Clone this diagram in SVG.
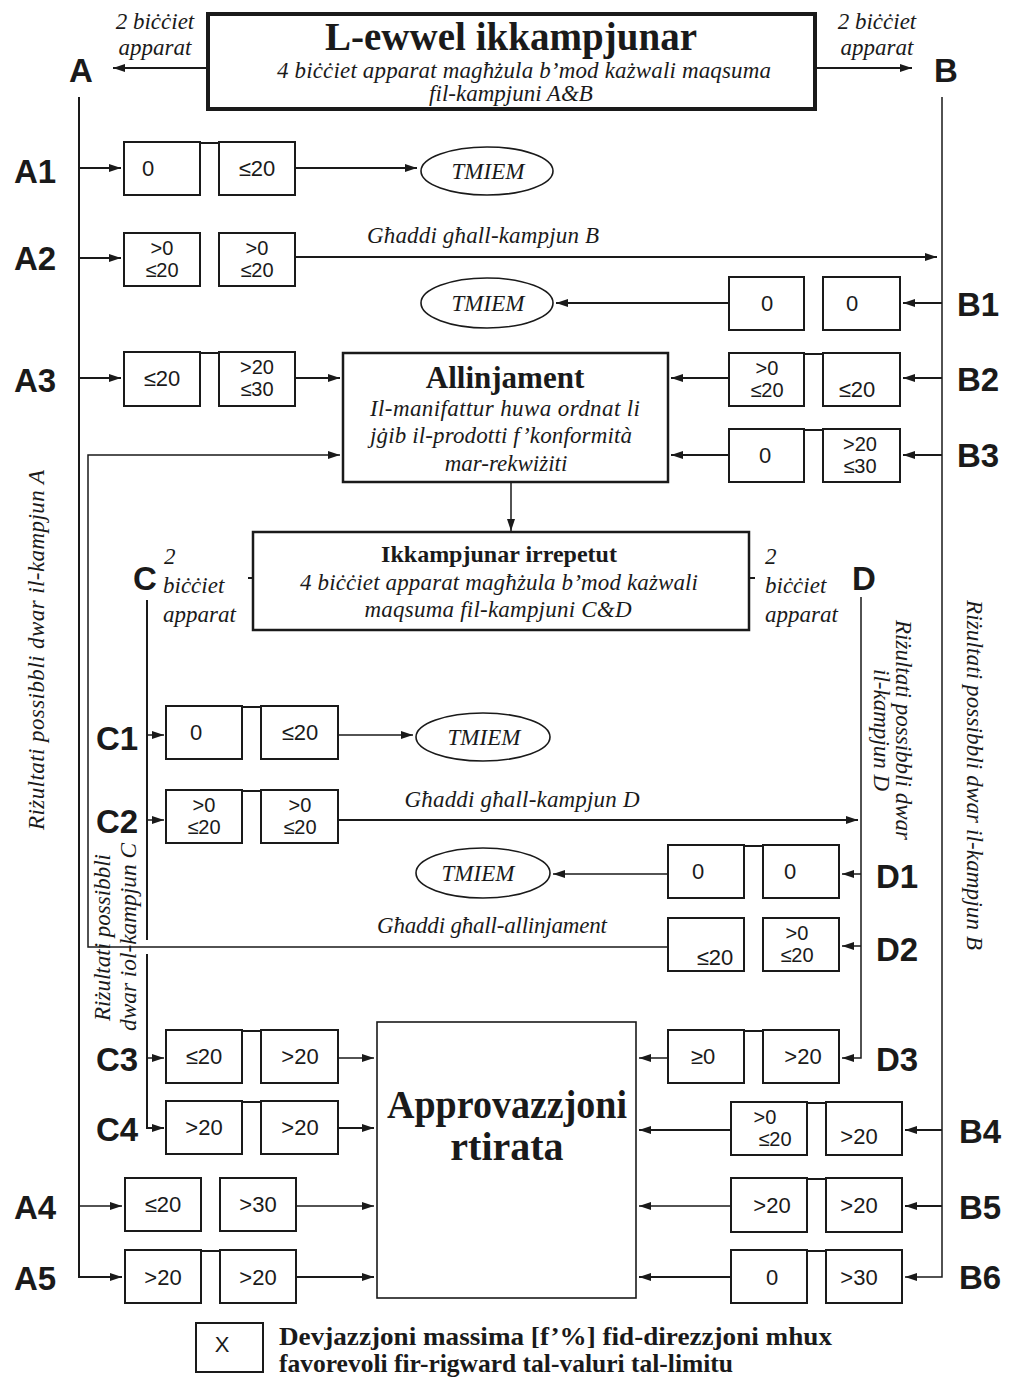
<svg xmlns="http://www.w3.org/2000/svg" width="1009" height="1381" viewBox="0 0 1009 1381">
<defs>
<marker id="ah" markerUnits="userSpaceOnUse" markerWidth="12" markerHeight="8" refX="12" refY="4" orient="auto">
<path d="M0,0 L12,4 L0,8 z" fill="#1a1a1a"/>
</marker>
<style>
.bx{fill:#fff;stroke:#1a1a1a;stroke-width:2}
.ln{fill:none;stroke:#1a1a1a;stroke-width:2}
.th{fill:none;stroke:#1a1a1a;stroke-width:1.5}
.ar{marker-end:url(#ah)}
.v{font-family:"Liberation Sans",Arial,sans-serif;font-size:22px;fill:#1a1a1a;text-anchor:middle}
.v2{font-family:"Liberation Sans",Arial,sans-serif;font-size:20px;fill:#1a1a1a;text-anchor:middle}
.lbl{font-family:"Liberation Sans",Arial,sans-serif;font-weight:bold;font-size:33px;fill:#1a1a1a;text-anchor:middle}
.it{font-family:"Liberation Serif","Times New Roman",serif;font-style:italic;font-size:23px;fill:#1a1a1a;text-anchor:middle}
.bd{font-family:"Liberation Serif","Times New Roman",serif;font-weight:bold;fill:#1a1a1a;text-anchor:middle}
.el{fill:#fff;stroke:#1a1a1a;stroke-width:1.6}
</style>
</defs>
<rect width="1009" height="1381" fill="#fff"/>

<g id="connectors">
<path class="ln ar" d="M207,68 H113"/>
<path class="ln ar" d="M815,68 H912"/>
<path class="ln ar" d="M79,97 V1277 H122"/>
<path class="ln ar" d="M79,168 H121"/>
<path class="ln ar" d="M79,258 H121"/>
<path class="ln ar" d="M79,378 H121"/>
<path class="th ar" d="M79,1206 H122"/>
<path class="ln ar" d="M295,168 H417"/>
<path class="ln ar" d="M295,257 H937"/>
<path class="ln ar" d="M295,378 H340"/>
<path class="th ar" d="M942,97 V1277 H905"/>
<path class="ln ar" d="M942,303 H903"/>
<path class="ln ar" d="M942,378 H903"/>
<path class="ln ar" d="M942,455 H903"/>
<path class="ln ar" d="M942,1130 H905"/>
<path class="ln ar" d="M942,1206 H905"/>
<path class="ln ar" d="M729,303 H556"/>
<path class="ln ar" d="M729,378 H671"/>
<path class="ln ar" d="M729,455 H671"/>
<path class="th ar" d="M511,482 V531"/>
<path class="ln" d="M147,600 V940"/>
<path class="ln ar" d="M147,954 V1128 H164"/>
<path class="th ar" d="M147,735 H164"/>
<path class="th ar" d="M147,820 H164"/>
<path class="th ar" d="M147,1058 H164"/>
<path class="th ar" d="M338,735 H413"/>
<path class="ln ar" d="M338,820 H858"/>
<path class="th ar" d="M338,1058 H374"/>
<path class="ln ar" d="M338,1128 H374"/>
<path class="th ar" d="M296,1206 H374"/>
<path class="ln ar" d="M296,1277 H374"/>
<path class="th ar" d="M861,597 V1058 H842"/>
<path class="th ar" d="M861,874 H842"/>
<path class="th ar" d="M861,946 H842"/>
<path class="th ar" d="M668,874 H553"/>
<path class="th ar" d="M668,947 H88 V455 H340"/>
<path class="th ar" d="M668,1058 H639"/>
<path class="ln ar" d="M731,1130 H639"/>
<path class="th ar" d="M731,1206 H639"/>
<path class="ln ar" d="M731,1277 H639"/>
<path class="ln" d="M248,578 H253 M749,578 H755"/>
</g>

<g id="header">
<rect x="208" y="14" width="607" height="95" fill="#fff" stroke="#1a1a1a" stroke-width="4"/>
<text class="bd" x="511" y="50" font-size="39" textLength="372" lengthAdjust="spacing">L-ewwel ikkampjunar</text>
<text class="it" x="524" y="78" textLength="494" lengthAdjust="spacing">4 biċċiet apparat magħżula b’mod każwali maqsuma</text>
<text class="it" x="511" y="101">fil-kampjuni A&amp;B</text>
<text class="it" x="155" y="29">2 biċċiet</text>
<text class="it" x="155" y="55">apparat</text>
<text class="it" x="877" y="29">2 biċċiet</text>
<text class="it" x="877" y="55">apparat</text>
</g>
<g id="label-A"><text class="lbl" x="81" y="82" font-size="42">A</text></g>
<g id="label-B"><text class="lbl" x="946" y="82" font-size="42">B</text></g>

<g id="side-texts">
<text class="it" transform="translate(44,650) rotate(-90)" textLength="360" lengthAdjust="spacing">Riżultati possibbli dwar il-kampjun A</text>
<text class="it" transform="translate(967,775) rotate(90)" textLength="350" lengthAdjust="spacing">Riżultati possibbli dwar il-kampjun B</text>
<text class="it" font-size="22" transform="translate(896,730) rotate(90)" textLength="220" lengthAdjust="spacingAndGlyphs">Riżultati possibbli dwar</text>
<text class="it" font-size="22" transform="translate(874,730) rotate(90)">il-kampjun D</text>
<text class="it" font-size="22" style="text-anchor:start" transform="translate(110,1021) rotate(-90)" textLength="167" lengthAdjust="spacingAndGlyphs">Riżultati possibbli</text>
<text class="it" font-size="22" style="text-anchor:start" transform="translate(136,1031) rotate(-90)" textLength="188" lengthAdjust="spacingAndGlyphs">dwar iol-kampjun C</text>
</g>

<g id="row-A1">
<text class="lbl" x="35" y="183">A1</text>
<rect class="bx" x="124" y="142" width="76" height="53"/><rect class="bx" x="219" y="142" width="76" height="53"/>
<path class="ln" d="M200,143 H219"/>
<text class="v" x="148" y="176">0</text><text class="v" x="257" y="176">≤20</text>
</g>
<g id="tmiem-1"><ellipse class="el" cx="487" cy="171" rx="66" ry="24"/><text class="it" x="488" y="179" font-size="22">TMIEM</text></g>

<g id="row-A2">
<text class="lbl" x="35" y="270">A2</text>
<rect class="bx" x="124" y="233" width="76" height="53"/><rect class="bx" x="219" y="233" width="76" height="53"/>
<text class="v2" x="162" y="255">&gt;0</text><text class="v2" x="162" y="277">≤20</text>
<text class="v2" x="257" y="255">&gt;0</text><text class="v2" x="257" y="277">≤20</text>
<text class="it" x="483" y="243" textLength="232" lengthAdjust="spacing">Għaddi għall-kampjun B</text>
</g>

<g id="row-B1">
<text class="lbl" x="978" y="316">B1</text>
<rect class="bx" x="729" y="277" width="75" height="53"/><rect class="bx" x="823" y="277" width="77" height="53"/>
<text class="v" x="767" y="311">0</text><text class="v" x="852" y="311">0</text>
</g>
<g id="tmiem-2"><ellipse class="el" cx="487" cy="303" rx="66" ry="25"/><text class="it" x="488" y="311" font-size="22">TMIEM</text></g>

<g id="row-A3">
<text class="lbl" x="35" y="392">A3</text>
<rect class="bx" x="124" y="352" width="76" height="54"/><rect class="bx" x="219" y="352" width="76" height="54"/>
<path class="ln" d="M200,353 H219"/>
<text class="v" x="162" y="386">≤20</text>
<text class="v2" x="257" y="374">&gt;20</text><text class="v2" x="257" y="396">≤30</text>
</g>

<g id="row-B2">
<text class="lbl" x="978" y="391">B2</text>
<rect class="bx" x="729" y="353" width="75" height="53"/><rect class="bx" x="823" y="353" width="77" height="53"/>
<path class="ln" d="M804,354 H823"/>
<text class="v2" x="767" y="375">&gt;0</text><text class="v2" x="767" y="397">≤20</text>
<text class="v" x="857" y="397">≤20</text>
</g>

<g id="row-B3">
<text class="lbl" x="978" y="467">B3</text>
<rect class="bx" x="729" y="429" width="75" height="53"/><rect class="bx" x="823" y="429" width="77" height="53"/>
<path class="ln" d="M804,430 H823"/>
<text class="v" x="765" y="463">0</text>
<text class="v2" x="860" y="451">&gt;20</text><text class="v2" x="860" y="473">≤30</text>
</g>

<g id="allinjament">
<rect x="343" y="353" width="325" height="129" fill="#fff" stroke="#1a1a1a" stroke-width="2.5"/>
<text class="bd" x="505" y="388" font-size="31">Allinjament</text>
<text class="it" x="505" y="416" textLength="270" lengthAdjust="spacing">Il-manifattur huwa ordnat li</text>
<text class="it" x="501" y="443" textLength="262" lengthAdjust="spacing">jġib il-prodotti f’konformità</text>
<text class="it" x="506" y="471">mar-rekwiżiti</text>
</g>

<g id="ikkampjunar-irrepetut">
<rect x="253" y="532" width="496" height="98" fill="#fff" stroke="#1a1a1a" stroke-width="2.5"/>
<text class="bd" x="499" y="562" font-size="24">Ikkampjunar irrepetut</text>
<text class="it" x="499" y="590" textLength="398" lengthAdjust="spacing">4 biċċiet apparat magħżula b’mod każwali</text>
<text class="it" x="498" y="617" textLength="267" lengthAdjust="spacing">maqsuma fil-kampjuni C&amp;D</text>
</g>

<g id="label-C">
<text class="lbl" x="145" y="590" font-size="40">C</text>
<text class="it" x="164" y="564" style="text-anchor:start">2</text>
<text class="it" x="163" y="593" style="text-anchor:start">biċċiet</text>
<text class="it" x="163" y="622" style="text-anchor:start">apparat</text>
</g>
<g id="label-D">
<text class="lbl" x="864" y="590" font-size="40">D</text>
<text class="it" x="765" y="564" style="text-anchor:start">2</text>
<text class="it" x="765" y="593" style="text-anchor:start">biċċiet</text>
<text class="it" x="765" y="622" style="text-anchor:start">apparat</text>
</g>

<g id="row-C1">
<text class="lbl" x="117" y="750">C1</text>
<rect class="bx" x="166" y="706" width="76" height="53"/><rect class="bx" x="261" y="706" width="77" height="53"/>
<path class="ln" d="M242,707 H261"/>
<text class="v" x="196" y="740">0</text><text class="v" x="300" y="740">≤20</text>
</g>
<g id="tmiem-3"><ellipse class="el" cx="483" cy="737" rx="67" ry="24"/><text class="it" x="484" y="745" font-size="22">TMIEM</text></g>

<g id="row-C2">
<text class="lbl" x="117" y="833">C2</text>
<rect class="bx" x="166" y="790" width="76" height="53"/><rect class="bx" x="261" y="790" width="77" height="53"/>
<path class="ln" d="M242,791 H261"/>
<text class="v2" x="204" y="812">&gt;0</text><text class="v2" x="204" y="834">≤20</text>
<text class="v2" x="300" y="812">&gt;0</text><text class="v2" x="300" y="834">≤20</text>
<text class="it" x="522" y="807" textLength="235" lengthAdjust="spacing">Għaddi għall-kampjun D</text>
</g>

<g id="row-D1">
<text class="lbl" x="897" y="888">D1</text>
<rect class="bx" x="668" y="845" width="76" height="53"/><rect class="bx" x="763" y="845" width="76" height="53"/>
<path class="ln" d="M744,846 H763"/>
<text class="v" x="698" y="879">0</text><text class="v" x="790" y="879">0</text>
</g>
<g id="tmiem-4"><ellipse class="el" cx="483" cy="873" rx="67" ry="25"/><text class="it" x="478" y="881" font-size="22">TMIEM</text></g>

<g id="row-D2">
<text class="lbl" x="897" y="961">D2</text>
<rect class="bx" x="668" y="918" width="76" height="53"/><rect class="bx" x="763" y="918" width="76" height="53"/>
<text class="v" x="715" y="965">≤20</text>
<text class="v2" x="797" y="940">&gt;0</text><text class="v2" x="797" y="962">≤20</text>
<text class="it" x="492" y="933" textLength="230" lengthAdjust="spacing">Għaddi għall-allinjament</text>
</g>

<g id="approvazzjoni">
<rect x="377" y="1022" width="259" height="276" fill="#fff" stroke="#1a1a1a" stroke-width="1.6"/>
<text class="bd" x="507" y="1118" font-size="40" textLength="240" lengthAdjust="spacingAndGlyphs">Approvazzjoni</text>
<text class="bd" x="507" y="1160" font-size="40">rtirata</text>
</g>

<g id="row-C3">
<text class="lbl" x="117" y="1071">C3</text>
<rect class="bx" x="166" y="1030" width="76" height="53"/><rect class="bx" x="261" y="1030" width="77" height="53"/>
<path class="ln" d="M242,1031 H261"/>
<text class="v" x="204" y="1064">≤20</text><text class="v" x="300" y="1064">&gt;20</text>
</g>

<g id="row-D3">
<text class="lbl" x="897" y="1071">D3</text>
<rect class="bx" x="668" y="1030" width="76" height="53"/><rect class="bx" x="763" y="1030" width="76" height="53"/>
<path class="ln" d="M744,1031 H763"/>
<text class="v" x="703" y="1064">≥0</text><text class="v" x="803" y="1064">&gt;20</text>
</g>

<g id="row-C4">
<text class="lbl" x="117" y="1141">C4</text>
<rect class="bx" x="166" y="1101" width="76" height="53"/><rect class="bx" x="261" y="1101" width="77" height="53"/>
<path class="ln" d="M242,1102 H261"/>
<text class="v" x="204" y="1135">&gt;20</text><text class="v" x="300" y="1135">&gt;20</text>
</g>

<g id="row-B4">
<text class="lbl" x="980" y="1143">B4</text>
<rect class="bx" x="731" y="1102" width="76" height="53"/><rect class="bx" x="826" y="1102" width="76" height="53"/>
<path class="ln" d="M807,1103 H826"/>
<text class="v2" x="765" y="1124">&gt;0</text><text class="v2" x="775" y="1146">≤20</text>
<text class="v" x="859" y="1144">&gt;20</text>
</g>

<g id="row-A4">
<text class="lbl" x="35" y="1219">A4</text>
<rect class="bx" x="125" y="1178" width="76" height="53"/><rect class="bx" x="220" y="1178" width="76" height="53"/>
<text class="v" x="163" y="1212">≤20</text><text class="v" x="258" y="1212">&gt;30</text>
</g>

<g id="row-B5">
<text class="lbl" x="980" y="1219">B5</text>
<rect class="bx" x="731" y="1178" width="76" height="54"/><rect class="bx" x="826" y="1178" width="76" height="54"/>
<path class="ln" d="M807,1179 H826"/>
<text class="v" x="772" y="1213">&gt;20</text><text class="v" x="859" y="1213">&gt;20</text>
</g>

<g id="row-A5">
<text class="lbl" x="35" y="1290">A5</text>
<rect class="bx" x="125" y="1250" width="76" height="53"/><rect class="bx" x="220" y="1250" width="76" height="53"/>
<path class="ln" d="M201,1251 H220"/>
<text class="v" x="163" y="1285">&gt;20</text><text class="v" x="258" y="1285">&gt;20</text>
</g>

<g id="row-B6">
<text class="lbl" x="980" y="1289">B6</text>
<rect class="bx" x="731" y="1250" width="76" height="53"/><rect class="bx" x="826" y="1250" width="76" height="53"/>
<path class="ln" d="M807,1251 H826"/>
<text class="v" x="772" y="1285">0</text><text class="v" x="859" y="1285">&gt;30</text>
</g>

<g id="legend">
<rect class="bx" x="196" y="1323" width="67" height="49"/>
<text class="v" x="222" y="1352" font-size="20">X</text>
<text class="bd" x="279" y="1345" font-size="25" style="text-anchor:start" textLength="553" lengthAdjust="spacingAndGlyphs">Devjazzjoni massima [f’%] fid-direzzjoni mhux</text>
<text class="bd" x="279" y="1372" font-size="25" style="text-anchor:start" textLength="454" lengthAdjust="spacingAndGlyphs">favorevoli fir-rigward tal-valuri tal-limitu</text>
</g>
</svg>
